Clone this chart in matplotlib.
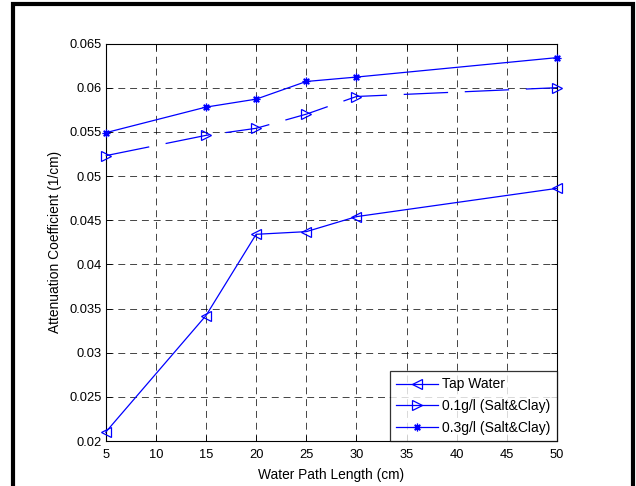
import matplotlib
matplotlib.use("Agg")
import matplotlib.pyplot as plt
from matplotlib.patches import Rectangle

plt.rcParams['font.family'] = ['Liberation Sans', 'DejaVu Sans']
plt.rcParams['lines.scale_dashes'] = False

x = [5, 15, 20, 25, 30, 50]
tap_water = [0.0210, 0.0342, 0.0434, 0.0437, 0.0454, 0.0486]
salt_clay_01 = [0.0523, 0.0546, 0.0554, 0.0570, 0.0590, 0.0600]
salt_clay_03 = [0.0549, 0.0578, 0.0587, 0.0607, 0.0612, 0.0634]
labels = ['Tap Water', '0.1g/l (Salt&Clay)', '0.3g/l (Salt&Clay)']
xticks = [5, 10, 15, 20, 25, 30, 35, 40, 45, 50]
yticks = [0.02, 0.025, 0.03, 0.035, 0.04, 0.045, 0.05, 0.055, 0.06, 0.065]
ytick_labels = ['0.02', '0.025', '0.03', '0.035', '0.04', '0.045', '0.05', '0.055', '0.06', '0.065']

fig = plt.figure(figsize=(6.36, 4.86), dpi=100)
fig.patch.set_facecolor('white')
ax = fig.add_axes([105.7/636, 1-441/486, (557-105.7)/636, (441-43.5)/486])

blue = '#0000ff'
ax.plot(x, tap_water, color=blue, lw=0.9, marker='<', ms=7, mfc='none',
        mec=blue, mew=0.9, label=labels[0], clip_on=False, zorder=3)
ax.plot(x, salt_clay_01, color=blue, lw=0.9, marker='>', ms=7, mfc='none',
        mec=blue, mew=0.9, label=labels[1], clip_on=False, zorder=3,
        dashes=(32, 12))
ax.plot(x, salt_clay_03, color=blue, lw=0.9, marker=(8, 2, 0), ms=5.5,
        mec=blue, mfc=blue, mew=0.9, label=labels[2], clip_on=False, zorder=3)

ax.set_xlim(5, 50)
ax.set_ylim(0.02, 0.065)
ax.set_xticks(xticks)
ax.set_xticklabels([str(t) for t in xticks])
ax.set_yticks(yticks)
ax.set_yticklabels(ytick_labels)
ax.tick_params(direction='in', length=4, width=0.6, top=True, right=True,
               labelsize=9.3, colors='black', pad=3)
ax.tick_params(axis='x', pad=6)
for s in ax.spines.values():
    s.set_linewidth(0.8)
    s.set_color('black')
ax.grid(True, color='black', lw=0.6, dashes=(5, 3.5), alpha=0.85)
ax.set_axisbelow(True)

ax.set_xlabel('Water Path Length (cm)', fontsize=9.9, labelpad=5)
ax.set_ylabel('Attenuation Coefficient (1/cm)', fontsize=9.9, labelpad=5)

leg = ax.legend(loc='lower right', fontsize=10, frameon=True, fancybox=False,
                borderaxespad=0.0, handlelength=3.0, handletextpad=0.35,
                borderpad=0.45, labelspacing=0.55, edgecolor='black')
leg.get_frame().set_linewidth(0.9)
leg.get_lines()[1].set_linestyle('-')

fig.patches.append(Rectangle((13/636, -0.1), (633-13)/636, 1.1 - 4.5/486,
                             transform=fig.transFigure, fill=False,
                             edgecolor='black', lw=3.0))

fig.savefig('out.png', dpi=100, facecolor='white')
